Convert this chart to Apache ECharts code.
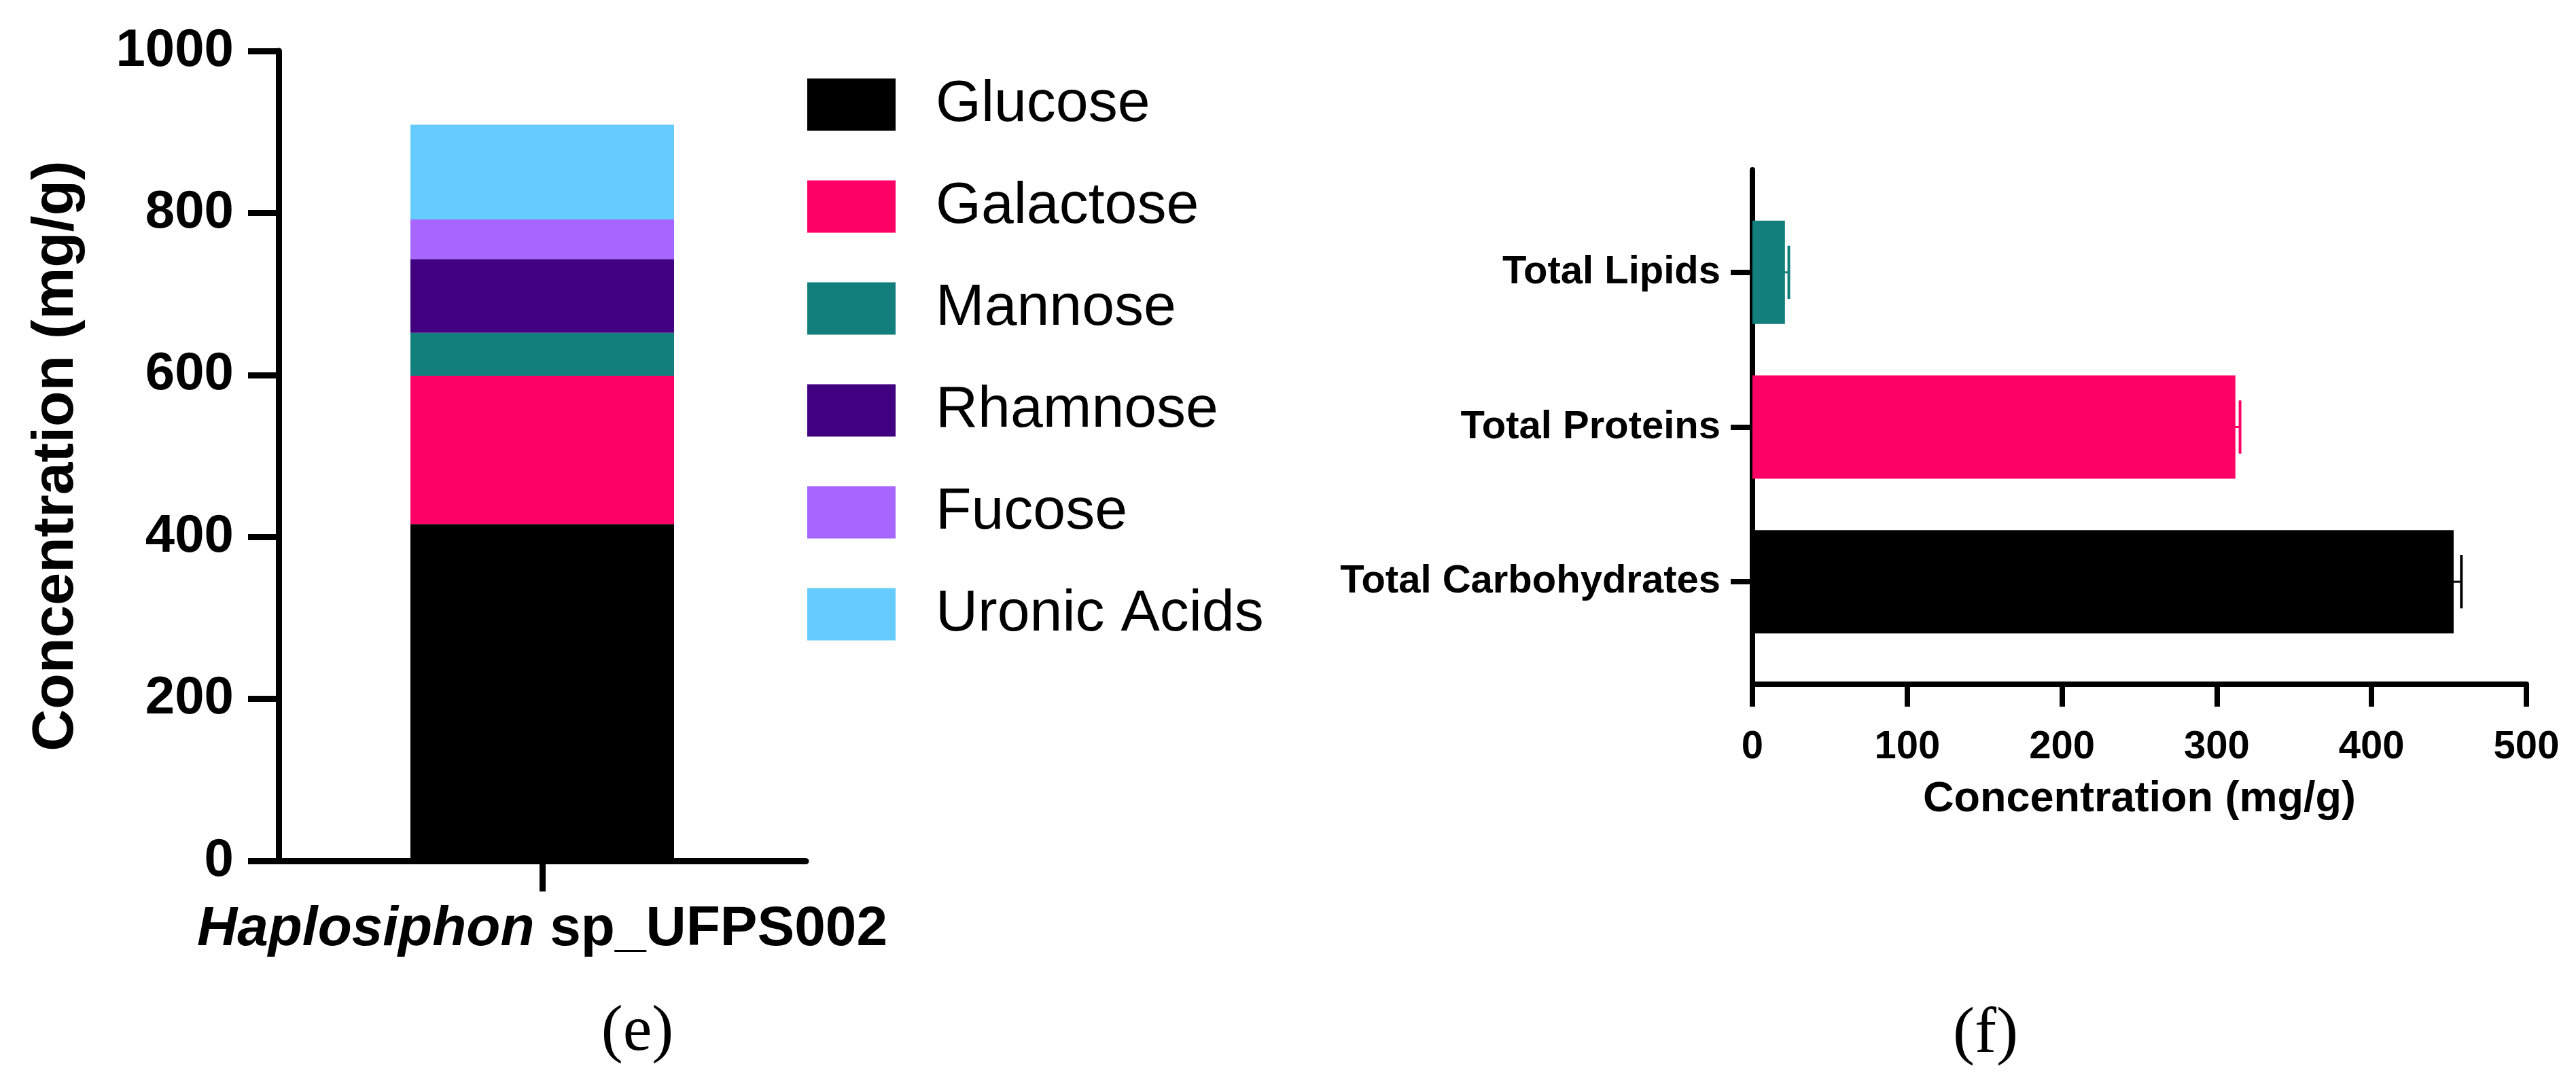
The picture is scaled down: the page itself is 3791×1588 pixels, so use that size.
<!DOCTYPE html>
<html>
<head>
<meta charset="utf-8">
<script src="https://cdn.jsdelivr.net/npm/echarts@6/dist/echarts.min.js"></script>
<style>
html,body{margin:0;padding:0;background:#fff;}
#chart{width:3791px;height:1588px;}
</style>
</head>
<body>
<div id="chart"></div>
<script>
// ---- Panel (e): monosaccharide composition ----
const sugarCategories = ['Haplosiphon sp_UFPS002'];
const sugarNames = ['Glucose', 'Galactose', 'Mannose', 'Rhamnose', 'Fucose', 'Uronic Acids'];
const sugarValues = [416, 183, 53, 91, 49, 117];
const sugarColors = ['#000000', '#FF0066', '#127F7C', '#40007F', '#A666FF', '#66CCFF'];
const sugarTickMax = 1000;
const sugarTickStep = 200;

// ---- Panel (f): total composition ----
const compCategories = ['Total Carbohydrates', 'Total Proteins', 'Total Lipids'];
const compValues = [453, 312, 21];
const compErrors = [5, 3, 2.5];
const compColors = ['#000000', '#FF0066', '#127F7C'];
const compTickMax = 500;
const compTickStep = 100;

const FONT = "'Liberation Sans', Arial, Helvetica, sans-serif";
const SERIF = "'Liberation Serif', 'Times New Roman', serif";

const chart = echarts.init(document.getElementById('chart'), null, {renderer: 'canvas'});

const sugarSeries = sugarNames.map((name, i) => ({
  name: name,
  type: 'bar',
  stack: 'sugars',
  xAxisIndex: 0,
  yAxisIndex: 0,
  barWidth: 388,
  itemStyle: {color: sugarColors[i]},
  data: sugarCategories.map(() => sugarValues[i]),
  silent: true
}));

const plainNum = (v) => String(v);

const option = {
  backgroundColor: '#ffffff',
  animation: false,
  textStyle: {fontFamily: FONT, color: '#000'},
  title: [
    {
      text: '(e)',
      left: 933, top: 1467, textAlign: 'center',
      textStyle: {fontFamily: SERIF, fontSize: 96, fontWeight: 'normal', color: '#000'}
    },
    {
      text: '(f)',
      left: 2917, top: 1470, textAlign: 'center',
      textStyle: {fontFamily: SERIF, fontSize: 96, fontWeight: 'normal', color: '#000'}
    }
  ],
  legend: {
    orient: 'vertical',
    left: 1188, top: 111,
    padding: 0,
    itemWidth: 130, itemHeight: 77, itemGap: 64,
    icon: 'rect',
    data: sugarNames,
    selectedMode: false,
    textStyle: {fontFamily: FONT, fontSize: 86, color: '#000', padding: [0, 0, 0, 54]}
  },
  grid: [
    {left: 410, right: 3791 - 1186, top: 75, bottom: 1588 - 1267, containLabel: false},
    {left: 2579, right: 3791 - 3718, top: 250, bottom: 1588 - 1007, containLabel: false},
    {left: 2579, right: 3791 - 3718, top: 287, bottom: 1588 - 970, containLabel: false}
  ],
  xAxis: [
    {
      gridIndex: 0, type: 'category', data: sugarCategories,
      axisLine: {show: true, lineStyle: {color: '#000', width: 9}},
      axisTick: {show: true, interval: 0, alignWithLabel: true, length: 45, lineStyle: {color: '#000', width: 9}},
      axisLabel: {
        show: true, interval: 0, margin: 60, color: '#000',
        formatter: (v) => {
          const parts = v.split(' ');
          return '{i|' + parts[0] + '}{b| ' + parts.slice(1).join(' ') + '}';
        },
        rich: {
          i: {fontFamily: FONT, fontSize: 82, fontWeight: 'bold', fontStyle: 'italic', color: '#000'},
          b: {fontFamily: FONT, fontSize: 82, fontWeight: 'bold', color: '#000'}
        }
      },
      splitLine: {show: false}
    },
    {
      gridIndex: 1, type: 'value', min: 0, max: compTickMax, interval: compTickStep,
      name: 'Concentration (mg/g)', nameLocation: 'middle', nameGap: 138,
      nameTextStyle: {fontFamily: FONT, fontSize: 63, fontWeight: 'bold', color: '#000'},
      axisLine: {show: true, lineStyle: {color: '#000', width: 8}},
      axisTick: {show: true, length: 33, lineStyle: {color: '#000', width: 8}},
      axisLabel: {show: true, margin: 64, fontFamily: FONT, fontSize: 58, fontWeight: 'bold', color: '#000', formatter: plainNum},
      splitLine: {show: false}
    },
    {
      gridIndex: 2, type: 'value', min: 0, max: compTickMax, interval: compTickStep,
      show: false
    }
  ],
  yAxis: [
    {
      gridIndex: 0, type: 'value', min: 0, max: sugarTickMax, interval: sugarTickStep,
      name: 'Concentration (mg/g)', nameLocation: 'middle', nameGap: 284, nameRotate: 90,
      nameTextStyle: {fontFamily: FONT, fontSize: 86, fontWeight: 'bold', color: '#000'},
      axisLine: {show: true, lineStyle: {color: '#000', width: 9}},
      axisTick: {show: true, length: 45, lineStyle: {color: '#000', width: 9}},
      axisLabel: {show: true, margin: 66, fontFamily: FONT, fontSize: 78, fontWeight: 'bold', color: '#000', formatter: plainNum},
      splitLine: {show: false}
    },
    {
      gridIndex: 1, type: 'value', min: 0, max: 1,
      axisLine: {show: true, lineStyle: {color: '#000', width: 8}},
      axisTick: {show: false}, axisLabel: {show: false}, splitLine: {show: false}
    },
    {
      gridIndex: 2, type: 'category', data: compCategories,
      axisLine: {show: false},
      axisTick: {show: true, interval: 0, alignWithLabel: true, length: 32, lineStyle: {color: '#000', width: 8}},
      axisLabel: {show: true, interval: 0, margin: 47, fontFamily: FONT, fontSize: 58, fontWeight: 'bold', color: '#000'},
      splitLine: {show: false}
    }
  ],
  series: sugarSeries.concat([
    {
      name: 'composition',
      type: 'bar',
      xAxisIndex: 2, yAxisIndex: 2,
      barWidth: 152,
      silent: true,
      data: compValues.map((v, i) => ({value: v, itemStyle: {color: compColors[i]}}))
    },
    {
      name: 'composition-error',
      type: 'custom',
      xAxisIndex: 2, yAxisIndex: 2,
      silent: true,
      z: 5,
      encode: {x: 0, y: 1},
      data: compValues.map((v, i) => [v, i, compErrors[i]]),
      renderItem: (params, api) => {
        const idx = params.dataIndex;
        const v = api.value(0);
        const c = api.value(1);
        const e = api.value(2);
        const p0 = api.coord([v, c]);
        const p1 = api.coord([v + e, c]);
        const band = api.size([0, 1])[1];
        const h = band * 0.344;
        const color = compColors[idx];
        return {
          type: 'group',
          children: [
            {type: 'line', shape: {x1: p0[0] - 2, y1: p0[1], x2: p1[0], y2: p1[1]},
             style: {stroke: color, lineWidth: 3}},
            {type: 'line', shape: {x1: p1[0], y1: p1[1] - h / 2, x2: p1[0], y2: p1[1] + h / 2},
             style: {stroke: color, lineWidth: 4}}
          ]
        };
      }
    }
  ])
};

chart.setOption(option);
</script>
</body>
</html>
